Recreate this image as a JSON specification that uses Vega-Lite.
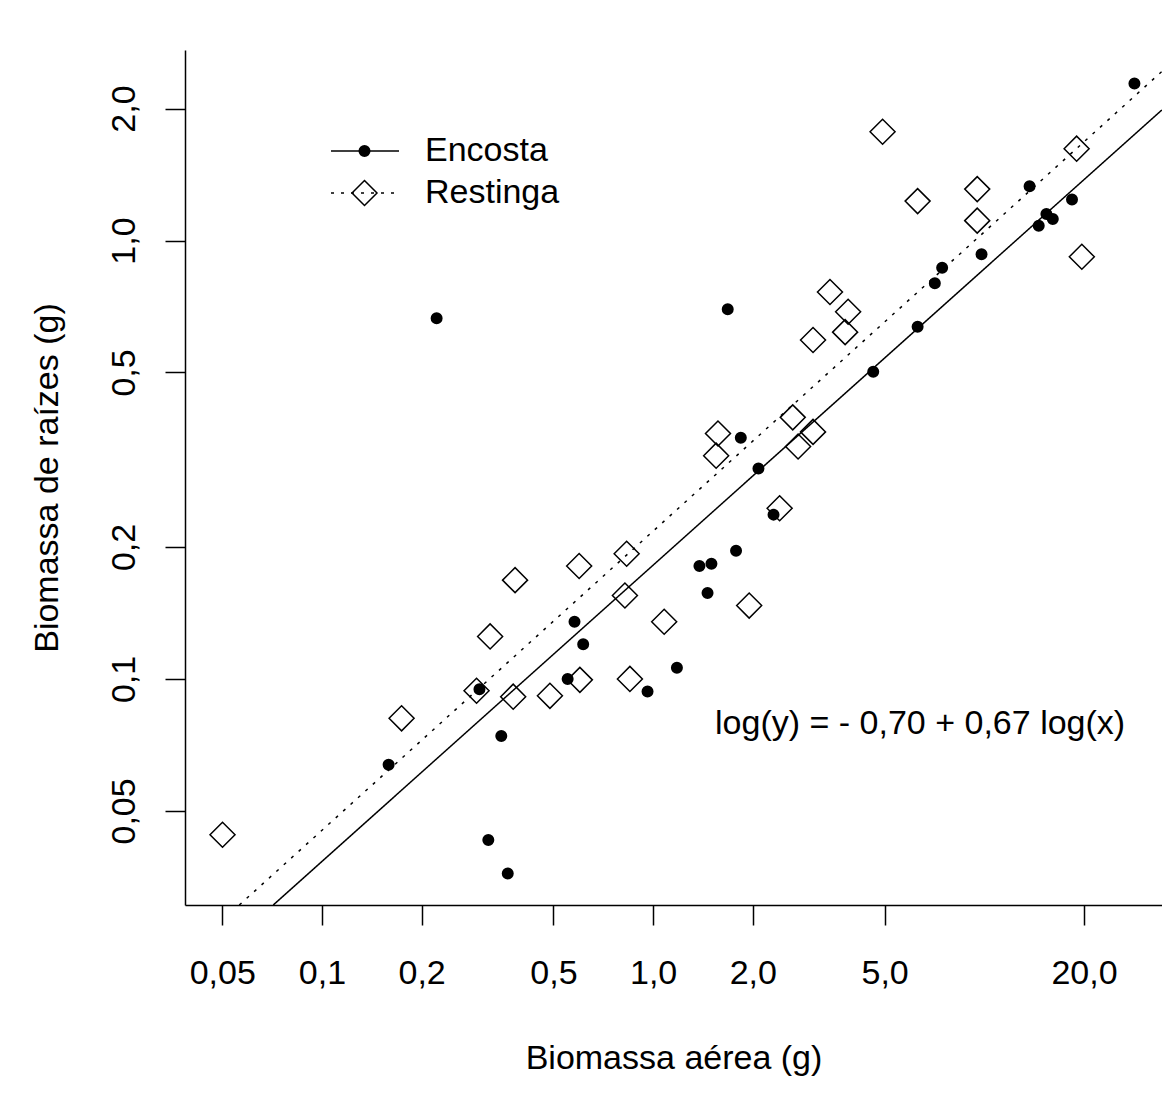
{
  "$schema": "https://vega.github.io/schema/vega-lite/v6.json",
  "width": 977,
  "height": 855,
  "autosize": {"type": "none"},
  "padding": {"left": 185, "top": 50, "right": 0, "bottom": 211},
  "background": "white",
  "config": {
    "view": {"stroke": null},
    "font": "Liberation Sans",
    "axis": {
      "grid": false,
      "domainColor": "black",
      "domainWidth": 1.5,
      "tickColor": "black",
      "tickWidth": 1.5,
      "tickSize": 20,
      "labelFont": "Liberation Sans",
      "labelFontSize": 34,
      "labelColor": "black",
      "labelFlush": false,
      "labelOverlap": false,
      "titleFont": "Liberation Sans",
      "titleFontSize": 34,
      "titleFontWeight": "normal",
      "titleColor": "black"
    }
  },
  "datasets": {
    "pontos": [
      {"grupo": "Encosta", "aerea": 28.4, "raiz": 2.28},
      {"grupo": "Encosta", "aerea": 13.7, "raiz": 1.33},
      {"grupo": "Encosta", "aerea": 18.4, "raiz": 1.24},
      {"grupo": "Encosta", "aerea": 15.4, "raiz": 1.15},
      {"grupo": "Encosta", "aerea": 16.1, "raiz": 1.12},
      {"grupo": "Encosta", "aerea": 14.6, "raiz": 1.08},
      {"grupo": "Encosta", "aerea": 9.81, "raiz": 0.93},
      {"grupo": "Encosta", "aerea": 7.46, "raiz": 0.867},
      {"grupo": "Encosta", "aerea": 7.09, "raiz": 0.799},
      {"grupo": "Encosta", "aerea": 6.29, "raiz": 0.636},
      {"grupo": "Encosta", "aerea": 4.62, "raiz": 0.502},
      {"grupo": "Encosta", "aerea": 0.222, "raiz": 0.665},
      {"grupo": "Encosta", "aerea": 1.68, "raiz": 0.697},
      {"grupo": "Encosta", "aerea": 1.84, "raiz": 0.355},
      {"grupo": "Encosta", "aerea": 2.08, "raiz": 0.302},
      {"grupo": "Encosta", "aerea": 2.31, "raiz": 0.237},
      {"grupo": "Encosta", "aerea": 1.78, "raiz": 0.196},
      {"grupo": "Encosta", "aerea": 1.38, "raiz": 0.181},
      {"grupo": "Encosta", "aerea": 1.5, "raiz": 0.183},
      {"grupo": "Encosta", "aerea": 1.46, "raiz": 0.157},
      {"grupo": "Encosta", "aerea": 0.579, "raiz": 0.135},
      {"grupo": "Encosta", "aerea": 0.615, "raiz": 0.12},
      {"grupo": "Encosta", "aerea": 0.552, "raiz": 0.1},
      {"grupo": "Encosta", "aerea": 1.18, "raiz": 0.106},
      {"grupo": "Encosta", "aerea": 0.962, "raiz": 0.0936},
      {"grupo": "Encosta", "aerea": 0.299, "raiz": 0.0947},
      {"grupo": "Encosta", "aerea": 0.348, "raiz": 0.0741},
      {"grupo": "Encosta", "aerea": 0.159, "raiz": 0.0637},
      {"grupo": "Encosta", "aerea": 0.318, "raiz": 0.0429},
      {"grupo": "Encosta", "aerea": 0.364, "raiz": 0.036},
      {"grupo": "Restinga", "aerea": 4.93, "raiz": 1.77},
      {"grupo": "Restinga", "aerea": 19.0, "raiz": 1.62},
      {"grupo": "Restinga", "aerea": 6.29, "raiz": 1.23},
      {"grupo": "Restinga", "aerea": 9.52, "raiz": 1.31},
      {"grupo": "Restinga", "aerea": 9.52, "raiz": 1.11},
      {"grupo": "Restinga", "aerea": 19.7, "raiz": 0.918},
      {"grupo": "Restinga", "aerea": 3.42, "raiz": 0.763},
      {"grupo": "Restinga", "aerea": 3.88, "raiz": 0.688},
      {"grupo": "Restinga", "aerea": 3.8, "raiz": 0.618},
      {"grupo": "Restinga", "aerea": 3.04, "raiz": 0.593},
      {"grupo": "Restinga", "aerea": 2.64, "raiz": 0.395},
      {"grupo": "Restinga", "aerea": 1.57, "raiz": 0.363},
      {"grupo": "Restinga", "aerea": 1.55, "raiz": 0.323},
      {"grupo": "Restinga", "aerea": 3.04, "raiz": 0.366},
      {"grupo": "Restinga", "aerea": 2.74, "raiz": 0.339},
      {"grupo": "Restinga", "aerea": 2.41, "raiz": 0.245},
      {"grupo": "Restinga", "aerea": 0.832, "raiz": 0.193},
      {"grupo": "Restinga", "aerea": 0.598, "raiz": 0.181},
      {"grupo": "Restinga", "aerea": 0.383, "raiz": 0.168},
      {"grupo": "Restinga", "aerea": 0.822, "raiz": 0.155},
      {"grupo": "Restinga", "aerea": 1.95, "raiz": 0.147},
      {"grupo": "Restinga", "aerea": 1.08, "raiz": 0.135},
      {"grupo": "Restinga", "aerea": 0.322, "raiz": 0.125},
      {"grupo": "Restinga", "aerea": 0.293, "raiz": 0.094},
      {"grupo": "Restinga", "aerea": 0.378, "raiz": 0.0911},
      {"grupo": "Restinga", "aerea": 0.488, "raiz": 0.0915},
      {"grupo": "Restinga", "aerea": 0.601, "raiz": 0.0995},
      {"grupo": "Restinga", "aerea": 0.851, "raiz": 0.1},
      {"grupo": "Restinga", "aerea": 0.174, "raiz": 0.0813},
      {"grupo": "Restinga", "aerea": 0.0501, "raiz": 0.0441}
    ],
    "retas": [
      {"grupo": "Encosta", "aerea": 0.0713, "raiz": 0.0305},
      {"grupo": "Encosta", "aerea": 34.37, "raiz": 1.985},
      {"grupo": "Restinga", "aerea": 0.0563, "raiz": 0.0305},
      {"grupo": "Restinga", "aerea": 34.37, "raiz": 2.43}
    ]
  },
  "layer": [
    {
      "data": {"name": "retas"},
      "mark": {"type": "line", "color": "black", "strokeWidth": 1.5, "clip": true},
      "encoding": {
        "x": {
          "field": "aerea",
          "type": "quantitative",
          "scale": {"type": "log", "domain": [0.0386, 34.4], "nice": false},
          "axis": {
            "values": [0.05, 0.1, 0.2, 0.5, 1, 2, 5, 20],
            "labelExpr": "replace(datum.value < 0.1 ? format(datum.value, '.2f') : format(datum.value, '.1f'), '.', ',')",
            "labelBaseline": "top",
            "labelPadding": 31,
            "title": "Biomassa aérea (g)",
            "titleBaseline": "middle",
            "titleY": 153
          }
        },
        "y": {
          "field": "raiz",
          "type": "quantitative",
          "scale": {"type": "log", "domain": [0.0305, 2.72], "nice": false},
          "axis": {
            "values": [0.05, 0.1, 0.2, 0.5, 1, 2],
            "labelExpr": "replace(datum.value < 0.1 ? format(datum.value, '.2f') : format(datum.value, '.1f'), '.', ',')",
            "labelAngle": -90,
            "labelAlign": "center",
            "labelBaseline": "middle",
            "labelPadding": 41,
            "title": "Biomassa de raízes (g)",
            "titleAngle": -90,
            "titleAlign": "center",
            "titleBaseline": "middle",
            "titleX": -138,
            "titleY": 427.5
          }
        },
        "strokeDash": {
          "field": "grupo",
          "type": "nominal",
          "scale": {"range": [[1, 0], [3, 7]]},
          "legend": {
            "orient": "none",
            "legendX": 145,
            "legendY": 83,
            "title": null,
            "padding": 0,
            "rowPadding": 6,
            "clipHeight": 36,
            "symbolType": "stroke",
            "symbolSize": 4624,
            "symbolStrokeWidth": 1.5,
            "symbolStrokeColor": "black",
            "labelFont": "Liberation Sans",
            "labelFontSize": 34,
            "labelColor": "black",
            "labelOffset": 25,
            "labelLimit": 400
          }
        }
      }
    },
    {
      "data": {"name": "pontos"},
      "mark": {"type": "point", "filled": false, "stroke": "black", "opacity": 1},
      "encoding": {
        "x": {"field": "aerea", "type": "quantitative"},
        "y": {"field": "raiz", "type": "quantitative"},
        "shape": {
          "field": "grupo",
          "type": "nominal",
          "scale": {"range": ["circle", "diamond"]},
          "legend": {"orient": "none", "legendX": 166, "legendY": 83, "title": null, "padding": 0, "rowPadding": 6, "clipHeight": 36, "labelExpr": "''", "symbolStrokeColor": "black", "symbolFillColor": "transparent"}
        },
        "size": {
          "field": "grupo",
          "type": "nominal",
          "scale": {"range": [36, 625]},
          "legend": {"orient": "none", "legendX": 166, "legendY": 83, "title": null, "padding": 0, "rowPadding": 6, "clipHeight": 36, "labelExpr": "''", "symbolStrokeColor": "black", "symbolFillColor": "transparent"}
        },
        "strokeWidth": {
          "field": "grupo",
          "type": "nominal",
          "scale": {"range": [6, 1.5]},
          "legend": {"orient": "none", "legendX": 166, "legendY": 83, "title": null, "padding": 0, "rowPadding": 6, "clipHeight": 36, "labelExpr": "''", "symbolStrokeColor": "black", "symbolFillColor": "transparent"}
        }
      }
    },
    {
      "data": {"values": [{}]},
      "mark": {"type": "text", "text": "log(y) = - 0,70 + 0,67 log(x)", "font": "Liberation Sans", "fontSize": 34, "align": "center", "baseline": "middle", "color": "black"},
      "encoding": {
        "x": {"datum": 6.4, "type": "quantitative"},
        "y": {"datum": 0.079, "type": "quantitative"}
      }
    }
  ]
}
